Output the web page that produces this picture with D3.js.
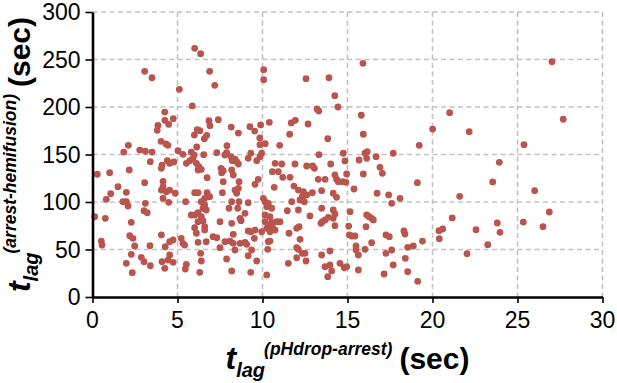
<!DOCTYPE html>
<html>
<head>
<meta charset="utf-8">
<script src="https://cdn.jsdelivr.net/npm/d3@7"></script>
<style>
  html, body { margin: 0; padding: 0; background: #fff; overflow: hidden; }
  svg { display: block; font-family: "Liberation Sans", Arial, Helvetica, sans-serif; }
</style>
</head>
<body>
<div id="chart"></div>
<script>
// t_lag (pHdrop -> arrest) in sec
const lagPhArrest = [
  6.01, 6.36, 3.07, 3.5, 6.89, 7.19, 5.11, 5.87, 4.25, 4.26, 4.75, 3.85, 4.48, 3.81, 6.85, 6.91, 7.4, 6.16, 6.32, 5.99,
  6.72, 6.58, 6.13, 4.03, 4.32, 4.44, 2.11, 7.91, 8.16, 8.58, 15.91, 10.07, 10.07, 12.56, 13.91, 14.25, 14.44, 13.21, 13.31, 15.81,
  15.93, 9.26, 9.54, 9.89, 10.4, 11.69, 11.93, 12.68, 11.6, 13.84, 9.84, 9.85, 10.16, 11.01, 19.22, 27.03, 27.69, 21.01, 20.01, 22.16,
  25.38, 1.84, 2.78, 3.11, 3.5, 5.03, 5.32, 5.81, 5.97, 6.54, 3.4, 4.09, 4.05, 4.4, 4.54, 4.79, 5.52, 5.72, 5.91, 6.11,
  6.25, 6.4, 6.21, 0.28, 1.01, 2.16, 6.74, 3.07, 1.5, 4.15, 4.15, 4.05, 4.34, 4.54, 4.87, 1.99, 1.07, 0.81, 6.01, 6.21,
  6.74, 6.6, 6.89, 6.4, 6.6, 6.5, 6.69, 6.21, 6.4, 1.79, 1.99, 2.09, 3.11, 3.03, 3.22, 4.15, 4.48, 5.48, 0.13, 0.75,
  5.81, 6.01, 2.28, 0.52, 0.56, 2.19, 2.38, 2.48, 4.05, 3.38, 4.28, 4.54, 4.74, 5.22, 5.32, 5.42, 2.28, 1.99, 2.87, 3.03,
  3.4, 4.09, 4.54, 4.44, 4.74, 4.25, 2.34, 5.52, 5.46, 6.21, 6.5, 6.01, 6.6, 6.6, 6.11, 6.21, 6.69, 7.09, 6.36, 6.4,
  6.31, 7.31, 7.79, 7.89, 8.15, 8.22, 8.48, 8.58, 8.38, 9.16, 9.31, 9.66, 9.85, 9.95, 7.56, 7.6, 7.69, 8.19, 8.28, 7.69,
  8.62, 8.38, 8.48, 8.58, 9.56, 9.75, 7.64, 8.19, 8.62, 9.16, 8.03, 8.54, 8.97, 8.68, 10.05, 10.15, 10.34, 10.25, 10.54, 10.15,
  10.44, 10.69, 10.74, 11.13, 10.58, 10.93, 11.19, 11.62, 11.91, 12.6, 12.95, 13.05, 13.32, 14.01, 11.85, 12.11, 12.4, 12.6, 12.34, 12.21,
  12.46, 11.72, 12.93, 13.48, 13.28, 13.68, 14.26, 14.36, 14.46, 14.16, 14.36, 11.46, 12.11, 12.79, 13.48, 14.16, 14.26, 13.87, 14.16, 14.75,
  14.72, 7.5, 8.19, 8.74, 7.31, 8.28, 9.16, 9.32, 9.56, 9.52, 7.79, 8.09, 8.28, 8.68, 8.97, 9.07, 7.5, 8.38, 9.36, 9.16,
  7.89, 9.66, 8.19, 9.31, 10.25, 9.95, 10.25, 10.34, 10.44, 10.58, 10.74, 10.84, 11.03, 10.54, 10.15, 10.34, 10.44, 10.31, 11.56, 12.01,
  12.15, 12.21, 12.01, 12.11, 12.34, 12.5, 12.01, 11.52, 12.56, 13.44, 13.52, 13.68, 14.26, 13.48, 13.97, 13.68, 13.97, 14.07, 13.84, 14.56,
  14.81, 14.85, 15.68, 16.03, 16.16, 16.13, 16.68, 17.69, 14.95, 14.91, 15.93, 15.38, 16.91, 17.05, 16.74, 17.42, 17.6, 18.09, 19.11, 15.15,
  16.13, 16.28, 16.42, 16.52, 16.09, 15.07, 15.11, 15.25, 15.44, 16.42, 16.03, 15.5, 15.5, 15.64, 14.95, 15.64, 17.26, 17.46, 17.26, 17.6,
  17.69, 17.15, 18.32, 18.38, 18.54, 18.87, 18.4, 18.54, 19.13, 23.93, 23.54, 26.01, 21.6, 26.87, 21.16, 25.34, 23.81, 26.5, 20.38, 20.6,
  22.56, 23.97, 19.41, 20.4, 23.25, 22.03
];

// t_lag (arrest -> hemifusion) in sec
const lagArrestHemi = [
  261.8, 256.1, 237.6, 230.8, 237.6, 222.8, 218.6, 201.1, 194.7, 186, 187.7, 180.7, 181.8, 175.5, 185.6, 180.3, 186.6, 176.1, 175.1, 170.5,
  170.2, 166.6, 157.9, 163.9, 161.1, 159.7, 159.7, 159.3, 178.9, 172.6, 246, 239.3, 228.7, 229.8, 230.8, 211.9, 200, 197.9, 195.8, 191.3,
  171.3, 179.3, 174.7, 181.1, 183.9, 183.2, 186, 182.1, 171.3, 166.6, 167.4, 160.3, 161.4, 159.7, 159.7, 247.7, 187.1, 194, 176.8, 174,
  160.3, 152.6, 154.7, 153.4, 152.6, 154, 150.2, 152.6, 149.5, 149.8, 142.4, 138.9, 135.5, 143.5, 140.7, 142.1, 140.7, 143.5, 146, 140.7,
  137.2, 134.4, 133.7, 129.2, 130.8, 133.7, 125.6, 120.3, 116.1, 121.8, 116.1, 112.6, 110.8, 112.6, 109.2, 110.2, 108.7, 102.8, 109.8, 109.8,
  109.8, 103.9, 105.6, 100.3, 96.8, 93.4, 91.6, 88.7, 84.5, 100.3, 100.3, 95.8, 98.6, 90.8, 88.7, 103.9, 99.7, 100.3, 84.5, 82.8,
  86.3, 86.3, 78.6, 58.9, 54.7, 64.5, 61.8, 53.7, 65.3, 54, 52.9, 58.2, 60, 61.8, 56.5, 54.7, 44.9, 35.5, 41.8, 37.2,
  32.9, 37.2, 44.2, 38.9, 36.5, 30.2, 25.6, 34.4, 29.5, 79.3, 80, 72.9, 74, 70.5, 67.1, 57.6, 58.2, 63.5, 46, 37.9,
  26, 151.9, 149.5, 151.9, 147.7, 143.5, 142.4, 140, 145, 146, 151.3, 143.5, 147.7, 151.3, 135.5, 130.8, 132.9, 133.7, 128.4, 121.4,
  121.4, 112.6, 109.2, 114.4, 118.6, 123.9, 109.8, 100.3, 100.3, 99.3, 93.4, 93.4, 88.1, 82.8, 103.9, 100.3, 98.6, 95.1, 93.4, 86.3,
  84.5, 115.5, 140.7, 140, 131.9, 131.9, 126, 126, 140, 137.9, 137.9, 135.5, 149.8, 140, 116.8, 112.6, 110.8, 107.4, 105.6, 102.1,
  100.3, 100.3, 109.8, 111.9, 123.9, 123.9, 128.4, 123.9, 121.4, 109.2, 104.9, 90.8, 91.6, 85.3, 93.4, 91.6, 87.4, 83.9, 82.8, 151.3,
  121.4, 79.3, 77.6, 80.3, 62.4, 66, 69.5, 68.7, 70.5, 61.8, 58.2, 58.9, 56.5, 56.5, 57.6, 55.5, 51.9, 49.5, 49.5, 43.5,
  40, 37.9, 27.4, 26, 23.2, 68.7, 72.3, 75.8, 68.7, 74, 70.5, 79.3, 79.3, 78.6, 79.3, 58.2, 58.9, 50.2, 67.1, 72.3,
  74, 60.7, 51.9, 50.2, 46, 46, 41.4, 35.5, 37.9, 77.6, 79.3, 81.1, 75.1, 44.2, 48.4, 31.9, 33.7, 27.4, 21.4, 35.5,
  30.8, 143.2, 144.2, 151.3, 153, 146, 147.7, 151.3, 129.5, 120.7, 129.5, 113.7, 136.5, 130.2, 109.2, 107.4, 98.6, 103.9, 120.3, 89.8,
  86.3, 84.5, 82.8, 81.1, 74, 74.7, 65.3, 64.2, 64.2, 57.2, 50.2, 53.7, 49.5, 44.2, 31.9, 28.4, 65.3, 63.5, 46, 49.5,
  33.7, 24.2, 69.5, 66.3, 52.3, 53.7, 40.7, 26.6, 16.5, 141.8, 121.1, 111.9, 106, 89.5, 83.2, 78.9, 77.9, 74, 69.8, 71.6,
  70.8, 68.1, 58.9, 61.4, 55.1, 45.6
];

const xTicks = [0, 5, 10, 15, 20, 25, 30];
const yTicks = [0, 50, 100, 150, 200, 250, 300];

const points = lagPhArrest.map((x, i) => ({ x, y: lagArrestHemi[i] }));

const width = 617;
const height = 383;
const margin = { top: 12, right: 14.5, bottom: 86, left: 92.5 };
const innerWidth = width - margin.left - margin.right;
const innerHeight = height - margin.top - margin.bottom;

const svg = d3.select("#chart")
  .append("svg")
  .attr("width", width)
  .attr("height", height);

const g = svg.append("g")
  .attr("transform", `translate(${margin.left},${margin.top})`);

const xScale = d3.scaleLinear([0, 30], [0, innerWidth]);
const yScale = d3.scaleLinear([0, 300], [innerHeight, 0]);

// dashed grid
const grid = g.append("g")
  .attr("stroke", "#c2c2c2")
  .attr("stroke-width", 1.6)
  .attr("stroke-dasharray", "5,3.5");

grid.selectAll(".vgrid")
  .data(xTicks.filter(d => d > 0))
  .join("line")
  .attr("x1", d => xScale(d))
  .attr("x2", d => xScale(d))
  .attr("y1", 0)
  .attr("y2", innerHeight);

grid.selectAll(".hgrid")
  .data(yTicks.filter(d => d > 0))
  .join("line")
  .attr("x1", 0)
  .attr("x2", innerWidth)
  .attr("y1", d => yScale(d))
  .attr("y2", d => yScale(d));

// points
g.append("g")
  .selectAll("circle")
  .data(points)
  .join("circle")
  .attr("cx", d => xScale(d.x))
  .attr("cy", d => yScale(d.y))
  .attr("r", 3.4)
  .attr("fill", "#b9554d");

// axes (labels drawn separately below)
const xAxis = d3.axisBottom(xScale).tickValues(xTicks).tickSize(6).tickFormat("").tickSizeOuter(0);
const yAxis = d3.axisLeft(yScale).tickValues(yTicks).tickSize(7).tickFormat("").tickSizeOuter(0);

const xAxisGroup = g.append("g")
  .attr("transform", `translate(0,${innerHeight})`)
  .call(xAxis);
const yAxisGroup = g.append("g").call(yAxis);

[xAxisGroup, yAxisGroup].forEach(ax => {
  ax.selectAll(".tick text").remove();
  ax.select(".domain").attr("stroke", "#000").attr("stroke-width", 2.6);
  ax.selectAll(".tick line").attr("stroke", "#000").attr("stroke-width", 1.6);
});

g.append("g")
  .selectAll("text")
  .data(xTicks)
  .join("text")
  .attr("x", d => xScale(d))
  .attr("y", innerHeight + 31)
  .attr("text-anchor", "middle")
  .attr("fill", "#000")
  .style("font-size", "23px")
  .text(d => d);

g.append("g")
  .selectAll("text")
  .data(yTicks)
  .join("text")
  .attr("x", -12)
  .attr("y", d => yScale(d) + 8)
  .attr("text-anchor", "end")
  .attr("fill", "#000")
  .style("font-size", "23px")
  .text(d => d);

// axis titles: t_lag^(...) (sec), centred on the plot area
function axisTitle(sel, sup) {
  sel.attr("fill", "#000").attr("text-anchor", "middle").style("font-weight", "700");
  sel.append("tspan").style("font-style", "italic").style("font-size", "32px").text("t");
  sel.append("tspan").style("font-style", "italic").style("font-size", "20px").attr("dy", 8).text("lag");
  sel.append("tspan").style("font-style", "italic").style("font-size", "17.5px").attr("dy", -22).attr("dx", -1).text(sup);
  sel.append("tspan").style("font-size", "30px").attr("dy", 14).attr("dx", 7).text("(sec)");
}

svg.append("text")
  .attr("x", margin.left + innerWidth / 2)
  .attr("y", 369)
  .call(axisTitle, "(pHdrop-arrest)");

svg.append("text")
  .attr("transform", `translate(30,${margin.top + innerHeight / 2}) rotate(-90)`)
  .call(axisTitle, "(arrest-hemifusion)");
</script>
</body>
</html>
